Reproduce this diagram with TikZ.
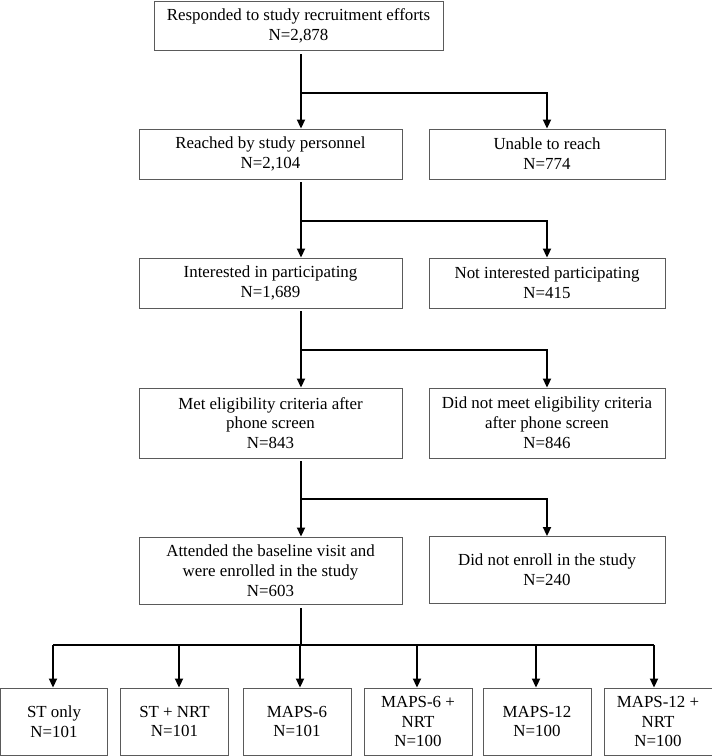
\documentclass[tikz,border=0pt]{standalone}
\usepackage{fontspec}
\setmainfont{Liberation Serif}
\usepackage{tikz}
\usetikzlibrary{arrows.meta}
\usepackage{xcolor}
\definecolor{boxgray}{RGB}{90,90,90}
\definecolor{flowink}{RGB}{0,0,0}

\begin{document}
\begin{tikzpicture}[x=1pt,y=-1pt,
    flowbox/.style={draw=boxgray,line width=0.9pt,fill=white,align=center,
      inner sep=0pt,font=\fontsize{16.9}{19.8}\selectfont},
    flowlink/.style={draw=flowink,line width=1.9pt,
      -{Triangle[length=9pt,width=8pt]}},
    flowline/.style={draw=flowink,line width=1.9pt}]
  \useasboundingbox (0,0) rectangle (712,756);
  \node[flowbox,minimum width=289,minimum height=49] (resp) at (298.5,25.5)
    {Responded to study recruitment efforts\\N=2,878};
  \node[flowbox,minimum width=263,minimum height=50] (reach) at (270.5,154)
    {Reached by study personnel\\N=2,104};
  \node[flowbox,minimum width=236,minimum height=50] (unable) at (547,154)
    {Unable to reach\\N=774};
  \node[flowbox,minimum width=263,minimum height=50] (inter) at (270.5,283)
    {Interested in participating\\N=1,689};
  \node[flowbox,minimum width=236,minimum height=50] (notinter) at (547,283)
    {Not interested participating\\N=415};
  \node[flowbox,minimum width=263,minimum height=70] (elig) at (270.5,423)
    {Met eligibility criteria after\\phone screen\\N=843};
  \node[flowbox,minimum width=236,minimum height=70] (notelig) at (547,423)
    {Did not meet eligibility criteria\\after phone screen\\N=846};
  \node[flowbox,minimum width=263,minimum height=67] (enrol) at (270.5,570.5)
    {Attended the baseline visit and\\were enrolled in the study\\N=603};
  \node[flowbox,minimum width=236,minimum height=67] (noenrol) at (547,570)
    {Did not enroll in the study\\N=240};
  \node[flowbox,minimum width=107,minimum height=67] (arm1) at (54,721.5)
    {ST only\\N=101};
  \node[flowbox,minimum width=108,minimum height=67] (arm2) at (174.5,721.5)
    {ST + NRT\\N=101};
  \node[flowbox,minimum width=108,minimum height=67] (arm3) at (297,721.5)
    {MAPS-6\\N=101};
  \node[flowbox,minimum width=108,minimum height=67] (arm4) at (418,721.5)
    {MAPS-6 +\\NRT\\N=100};
  \node[flowbox,minimum width=108,minimum height=67] (arm5) at (537,721.5)
    {MAPS-12\\N=100};
  \node[flowbox,minimum width=108,minimum height=67] (arm6) at (658,721.5)
    {MAPS-12 +\\NRT\\N=100};
  % branch points on the main spine
  \coordinate (fork1) at (301,93);
  \coordinate (fork2) at (301,221);
  \coordinate (fork3) at (301,350);
  \coordinate (fork4) at (301,499);
  \coordinate (fork5) at (301,645);
  \draw[flowlink] ([yshift=-4pt]resp.south -| fork1) -- (fork1 |- reach.north);
  \draw[flowlink] (fork1) -| (unable.north);
  \draw[flowlink] ([yshift=-3pt]reach.south -| fork2) -- (fork2 |- inter.north);
  \draw[flowlink] (fork2) -| (notinter.north);
  \draw[flowlink] ([yshift=-3pt]inter.south -| fork3) -- (fork3 |- elig.north);
  \draw[flowlink] (fork3) -| (notelig.north);
  \draw[flowlink] ([yshift=-3pt]elig.south -| fork4) -- (fork4 |- enrol.north);
  \draw[flowlink] (fork4) -| (noenrol.north);
  \draw[flowline] ([yshift=-4pt]enrol.south -| fork5) -- (fork5);
  \draw[flowline] ([xshift=-1pt]arm1.north |- fork5) -- ([xshift=-4pt]arm6.north |- fork5);
  \draw[flowlink] ([xshift=-1pt]arm1.north |- fork5) -- ([xshift=-1pt]arm1.north);
  \draw[flowlink] ([xshift=4.5pt]arm2.north |- fork5) -- ([xshift=4.5pt]arm2.north);
  \draw[flowlink] ([xshift=3pt]arm3.north |- fork5) -- ([xshift=3pt]arm3.north);
  \draw[flowlink] ([xshift=-1pt]arm4.north |- fork5) -- ([xshift=-1pt]arm4.north);
  \draw[flowlink] ([xshift=-1pt]arm5.north |- fork5) -- ([xshift=-1pt]arm5.north);
  \draw[flowlink] ([xshift=-4pt]arm6.north |- fork5) -- ([xshift=-4pt]arm6.north);
\end{tikzpicture}
\end{document}
